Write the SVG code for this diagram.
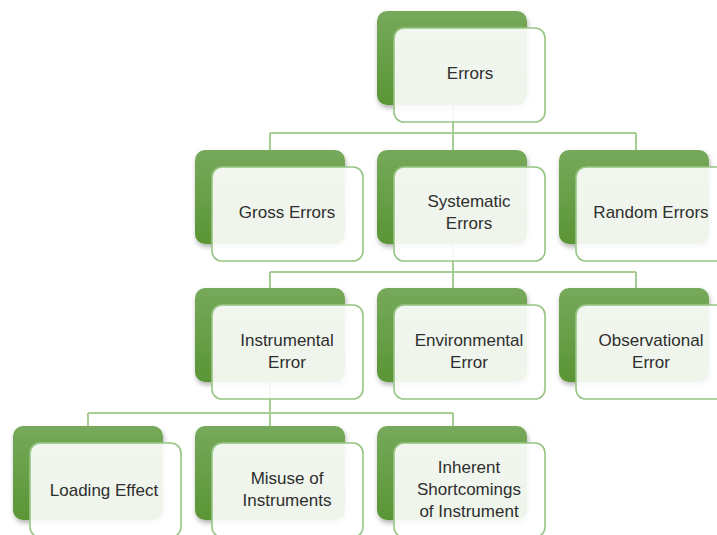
<svg xmlns="http://www.w3.org/2000/svg" width="717" height="535" viewBox="0 0 717 535">
<defs>
<linearGradient id="g" x1="0" y1="0" x2="0" y2="1">
<stop offset="0" stop-color="#76a95b"/>
<stop offset="1" stop-color="#5a9535"/>
</linearGradient>
<filter id="sh" x="-10%" y="-10%" width="125%" height="130%">
<feDropShadow dx="1" dy="3" stdDeviation="2.5" flood-color="#000" flood-opacity="0.3"/>
</filter>
</defs>
<style>
.b{fill:url(#g);filter:url(#sh)}
.f{fill:#ffffff;fill-opacity:0.9;stroke:#96c583;stroke-width:1.6}
.c{fill:none;stroke:#a6cd94;stroke-width:2}
text{font-family:"Liberation Sans",Arial,sans-serif;font-size:17px;fill:#2e2e2e;text-anchor:middle;dominant-baseline:central}
</style>
<rect width="717" height="535" fill="#ffffff"/>
<g id="connectors">
<path class="c" d="M453 100V133M270 133H636M270 133V152M453 133V152M636 133V152"/>
<path class="c" d="M453 240V272M270 272H636M270 272V290M453 272V290M636 272V290"/>
<path class="c" d="M270 378V413M88 413H453M88 413V428M270 413V428M453 413V428"/>
</g>
<g id="n-errors"><rect class="b" x="377" y="11" width="150" height="94" rx="10"/><rect class="f" x="394" y="28" width="151" height="94" rx="10"/><text x="470" y="73">Errors</text></g>
<g id="n-gross"><rect class="b" x="195" y="150" width="150" height="94" rx="10"/><rect class="f" x="212" y="167" width="151" height="94" rx="10"/><text x="287" y="212">Gross Errors</text></g>
<g id="n-systematic"><rect class="b" x="377" y="150" width="150" height="94" rx="10"/><rect class="f" x="394" y="167" width="151" height="94" rx="10"/><text x="469" y="201">Systematic</text><text x="469" y="223">Errors</text></g>
<g id="n-random"><rect class="b" x="559" y="150" width="150" height="94" rx="10"/><rect class="f" x="576" y="167" width="151" height="94" rx="10"/><text x="651" y="212">Random Errors</text></g>
<g id="n-instrumental"><rect class="b" x="195" y="288" width="150" height="94" rx="10"/><rect class="f" x="212" y="305" width="151" height="94" rx="10"/><text x="287" y="340">Instrumental</text><text x="287" y="362">Error</text></g>
<g id="n-environmental"><rect class="b" x="377" y="288" width="150" height="94" rx="10"/><rect class="f" x="394" y="305" width="151" height="94" rx="10"/><text x="469" y="340">Environmental</text><text x="469" y="362">Error</text></g>
<g id="n-observational"><rect class="b" x="559" y="288" width="150" height="94" rx="10"/><rect class="f" x="576" y="305" width="151" height="94" rx="10"/><text x="651" y="340">Observational</text><text x="651" y="362">Error</text></g>
<g id="n-loading"><rect class="b" x="13" y="426" width="150" height="94" rx="10"/><rect class="f" x="30" y="443" width="151" height="94" rx="10"/><text x="104" y="490">Loading Effect</text></g>
<g id="n-misuse"><rect class="b" x="195" y="426" width="150" height="94" rx="10"/><rect class="f" x="212" y="443" width="151" height="94" rx="10"/><text x="287" y="478">Misuse of</text><text x="287" y="500">Instruments</text></g>
<g id="n-inherent"><rect class="b" x="377" y="426" width="150" height="94" rx="10"/><rect class="f" x="394" y="443" width="151" height="94" rx="10"/><text x="469" y="467">Inherent</text><text x="469" y="489">Shortcomings</text><text x="469" y="511">of Instrument</text></g>
</svg>
